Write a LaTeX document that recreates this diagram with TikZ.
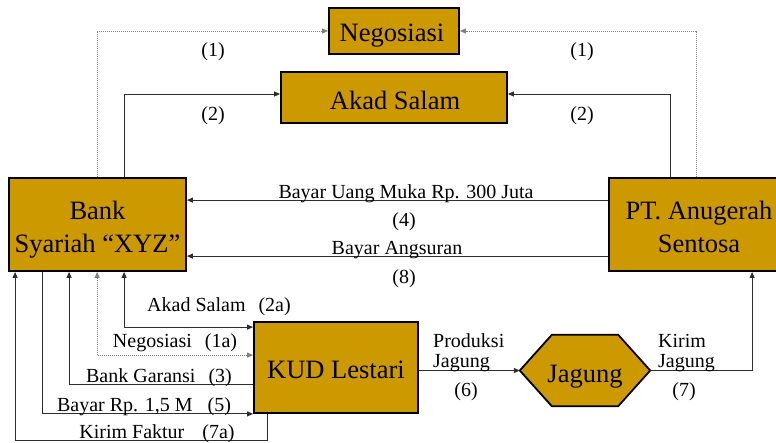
\documentclass[tikz,border=0pt]{standalone}
\usepackage{fontspec}
\setmainfont{Liberation Serif}
\usetikzlibrary{arrows.meta}
\definecolor{gold}{RGB}{204,153,0}
\definecolor{wire}{RGB}{45,45,45}
\begin{document}
\begin{tikzpicture}[x=1pt,y=-1pt,
  box/.style={draw=black,line width=1.8pt,fill=gold,inner sep=0pt,rectangle},
  boxtext/.style={anchor=base,inner sep=0pt,font=\fontsize{26.5}{33}\selectfont,align=center},
  lbl/.style={anchor=base,inner sep=0pt,font=\fontsize{20}{20}\selectfont},
  lbll/.style={anchor=base west,inner sep=0pt,font=\fontsize{20}{20}\selectfont,align=left},
  tip/.tip={Triangle[length=6pt,width=5pt]},
  conn/.style={draw=wire,line width=1pt,-tip},
  conn2/.style={draw=wire,line width=1pt,tip-tip},
  dotconn/.style={draw=gray,line width=1pt,dash pattern=on 1pt off 1pt,-tip},
  dotconn2/.style={draw=gray,line width=1pt,dash pattern=on 1pt off 1pt,tip-tip}]
\useasboundingbox (0,0) rectangle (776,442);
\clip (0,0) rectangle (776,442);

% boxes
\node[box,minimum width=130,minimum height=46] (nego) at (394,31) {};
\node[box,minimum width=226,minimum height=51] (akad) at (394,97.5) {};
\node[box,minimum width=177,minimum height=93] (bank) at (97.5,224.5) {};
\node[box,minimum width=180,minimum height=93] (pt) at (699,224.5) {};
\node[box,minimum width=164,minimum height=91] (kud) at (336,367.5) {};
\node[inner sep=0pt,minimum width=130,minimum height=71] (jag) at (585,370.5) {};
\draw[box] (jag.west) -- ([xshift=32pt]jag.north west) -- ([xshift=-32pt]jag.north east)
  -- (jag.east) -- ([xshift=-32pt]jag.south east) -- ([xshift=32pt]jag.south west) -- cycle;

% box texts (base = last line)
\node[boxtext] (negot) at (392,41) {Negosiasi};
\node[boxtext] (akadt) at (395,109) {Akad Salam};
\node[boxtext] (bankt) at (97.5,252) {Bank\\Syariah “XYZ”};
\node[boxtext] (ptt) at (699,252) {PT. Anugerah\\Sentosa};
\node[boxtext] (kudt) at (336,378) {KUD Lestari};
\node[boxtext] (jagt) at (585,382) {Jagung};

% negotiation and contract flows to the top
\draw[dotconn] ([xshift=89pt]bank.north west) |- (nego.west);
\draw[dotconn] ([xshift=88pt]pt.north west) |- (nego.east);
\draw[conn] ([xshift=116pt]bank.north west) |- ([yshift=3.5pt]akad.west);
\draw[conn] ([xshift=62pt]pt.north west) |- ([yshift=3.5pt]akad.east);
\node[lbl] (l1a) at (213,56) {(1)};
\node[lbl] (l1b) at (582,56) {(1)};
\node[lbl] (l2a) at (213,120) {(2)};
\node[lbl] (l2b) at (582,120) {(2)};

% payments from PT to bank
\draw[conn] ([yshift=-23pt]pt.north west) -- ([yshift=-23pt]bank.north east);
\draw[conn] ([yshift=-79pt]pt.north west) -- ([yshift=-79pt]bank.north east);
\node[lbl] (l4t) at (406,198) {Bayar Uang Muka Rp. 300 Juta};
\node[lbl] (l4) at (404,226) {(4)};
\node[lbl] (l8t) at (397,254) {Bayar Angsuran};
\node[lbl] (l8) at (404,283) {(8)};

% bank <-> KUD
\draw[conn2] ([xshift=116pt]bank.south west) |- ([yshift=-6pt]kud.north west);
\draw[dotconn2] ([xshift=89pt]bank.south west) |- ([yshift=-34pt]kud.north west);
\draw[conn] ([yshift=-63pt]kud.north west) -| ([xshift=61pt]bank.south west);
\draw[conn] ([xshift=34pt]bank.south west) |- (kud.south west);
\draw[conn] ([xshift=14pt]kud.south west) -- ++(0,27) -| ([xshift=7pt]bank.south west);
\node[lbl] (l2at) at (219,311) {Akad Salam\hspace{13pt}(2a)};
\node[lbl] (l1at) at (175,347) {Negosiasi\hspace{13pt}(1a)};
\node[lbl] (l3t) at (159,382) {Bank Garansi\hspace{13pt}(3)};
\node[lbl] (l5t) at (144,411) {Bayar Rp. 1,5 M\hspace{15pt}(5)};
\node[lbl] (l7at) at (157,438) {Kirim Faktur\hspace{18pt}(7a)};

% production and delivery
\draw[conn] (kud.east |- jag.west) -- (jag.west);
\draw[conn] (jag.east) -| ([xshift=144pt]pt.south west);
\node[lbll] (l6t) at (433,367) {Produksi\\Jagung};
\node[lbl] (l6) at (466,396) {(6)};
\node[lbll] (l7t) at (658,367) {Kirim\\Jagung};
\node[lbl] (l7) at (684,396) {(7)};
\end{tikzpicture}
\end{document}
